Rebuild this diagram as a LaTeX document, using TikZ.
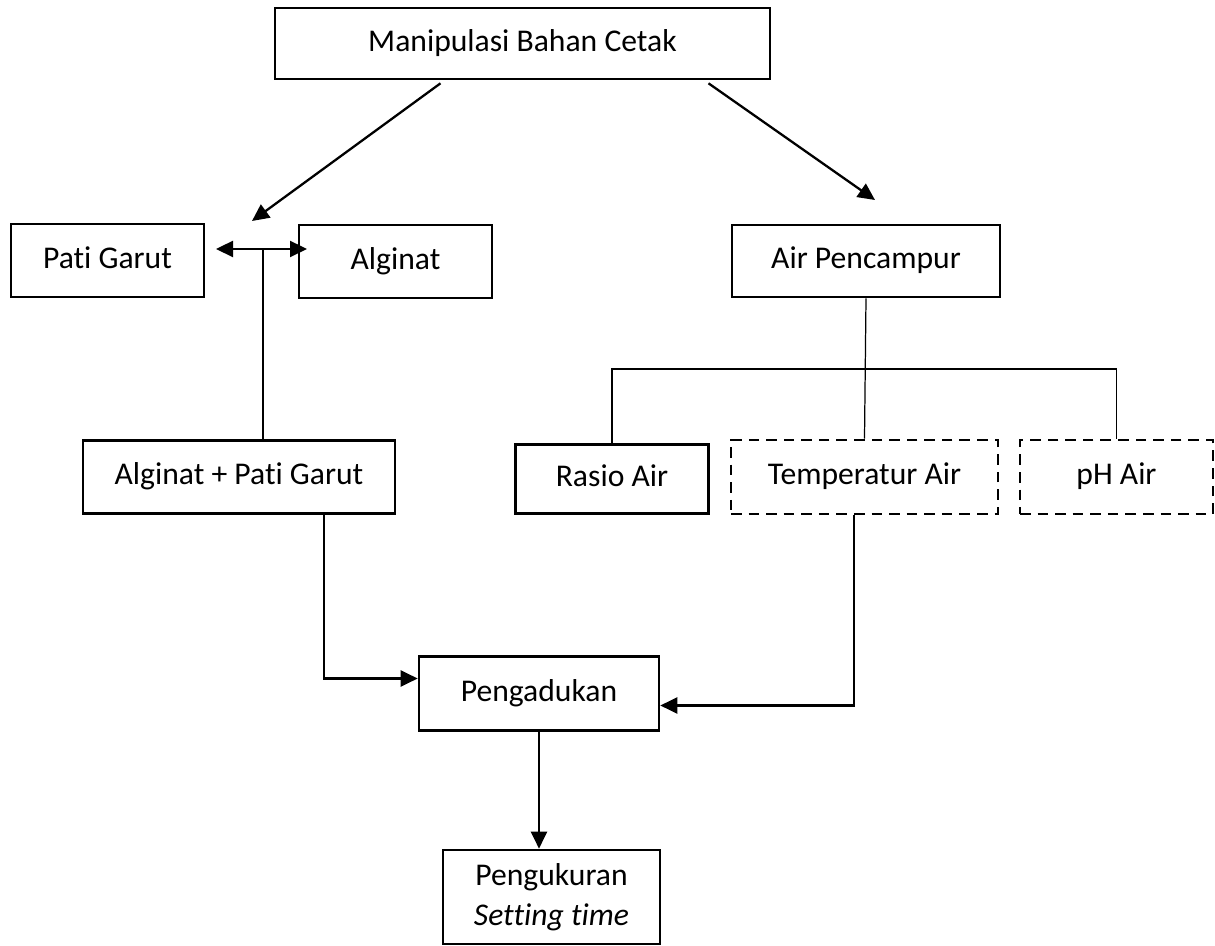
\documentclass[tikz,border=0pt]{standalone}
\usepackage{fontspec}
\setmainfont{Carlito}[Ligatures=NoCommon]
\usetikzlibrary{positioning,calc,arrows.meta}

\tikzset{
    box/.style={draw, line width=1.5pt, align=center, inner sep=0pt, text height=12.5pt, text depth=3.5pt, font=\fontsize{18}{22.5}\selectfont},
    dbox/.style={box, dash pattern=on 6pt off 4pt},
    arr/.style={line width=1.3pt, -{Triangle[length=0.34cm,width=0.32cm]}},
    link/.style={line width=0.7pt}
}

\begin{document}
\begin{tikzpicture}
    \useasboundingbox (0,0) rectangle (24.3,-18.92);

    % Top
    \node[box, minimum width=9.9cm, minimum height=1.42cm] (manip) at (10.45,-0.87) {Manipulasi Bahan Cetak};

    % Bahan
    \node[box, minimum width=3.86cm, minimum height=1.46cm] (pati) at (2.15,-5.21) {Pati Garut};
    \node[box, minimum width=3.86cm, minimum height=1.46cm] (alg) at (7.91,-5.23) {Alginat};
    \node[box, minimum width=6.24cm, minimum height=1.46cm] (campur) at (4.78,-9.54) {Alginat + Pati Garut};

    % Air
    \node[box, minimum width=5.36cm, minimum height=1.44cm] (air) at (17.32,-5.22) {Air Pencampur};
    \node[box, minimum width=3.86cm, minimum height=1.38cm] (rasio) at (12.24,-9.58) {Rasio Air};
    \node[dbox, minimum width=5.34cm, minimum height=1.48cm] (temp) at (17.29,-9.54) {Temperatur Air};
    \node[dbox, minimum width=3.86cm, minimum height=1.48cm] (ph) at (22.33,-9.54) {pH Air};

    % Proses
    \node[box, minimum width=4.8cm, minimum height=1.48cm] (aduk) at (10.78,-13.87) {Pengadukan};
    \node[box, text height={}, text depth={}, minimum width=4.34cm, minimum height=1.88cm] (ukur) at (11.03,-17.94) {Pengukuran\\\textit{Setting time}};

    % Free ends
    \coordinate (tipL) at (5.04,-4.42);
    \coordinate (tipR) at (17.5,-4.0);
    \coordinate (mixL) at (4.32,-4.98);
    \coordinate (mixR) at (6.14,-4.98);
    \coordinate (mixJ) at (5.26,-4.98);
    \coordinate (bus) at (0,-7.38);

    % Connectors
    \draw[arr] ([xshift=-1.64cm,yshift=-0.06cm]manip.south) -- (tipL);
    \draw[arr] ([xshift=3.72cm,yshift=-0.06cm]manip.south) -- (tipR);
    \draw[arr, {Triangle[length=0.34cm,width=0.32cm]}-{Triangle[length=0.34cm,width=0.32cm]}] (mixL) -- (mixR);
    \draw[link] (mixJ) -- (mixJ |- campur.north);
    \draw[link] (air.south) -- (temp.north);
    \draw[link] (rasio.north) |- (bus -| ph.north) -- (ph.north);
    \draw[arr] ([xshift=1.7cm]campur.south) |- ([yshift=0.3cm]aduk.west);
    \draw[arr] ([xshift=-0.21cm]temp.south) |- ([yshift=-0.24cm]aduk.east);
    \draw[arr] (aduk.south) -- (aduk.south |- ukur.north);
\end{tikzpicture}
\end{document}
